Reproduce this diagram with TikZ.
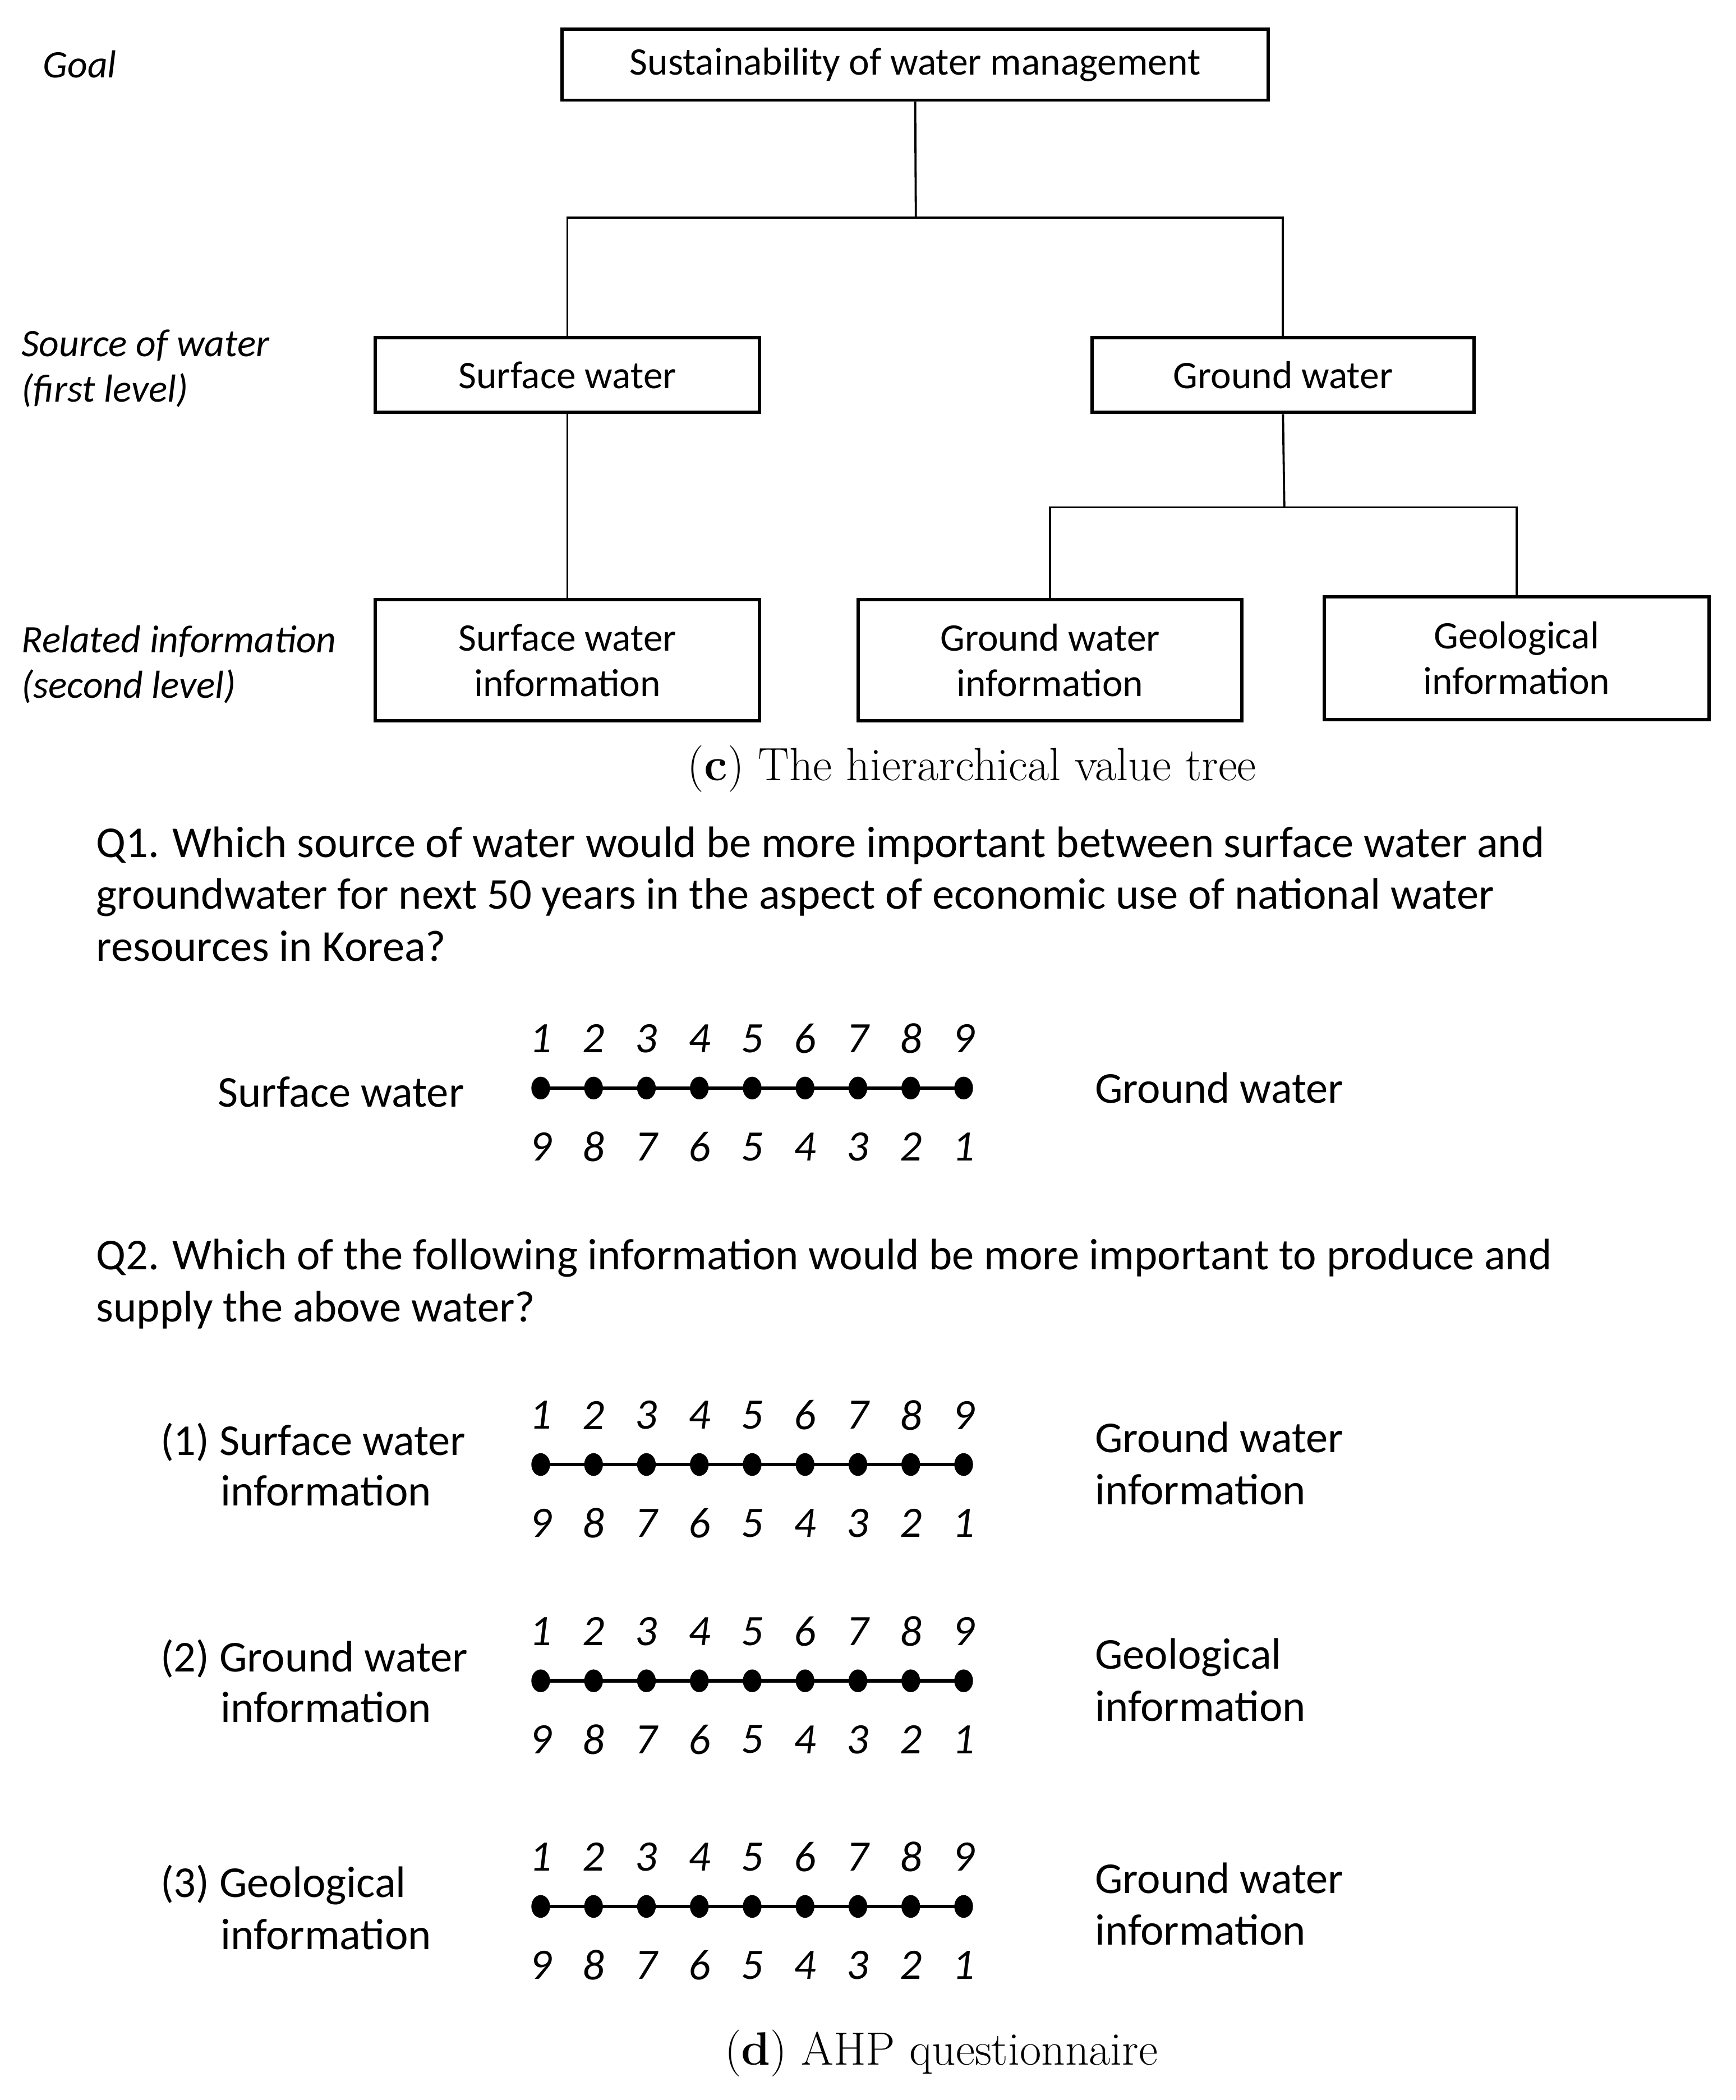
\documentclass[tikz,border=0pt]{standalone}
\usepackage{fontspec}
\newfontfamily\cfont{Carlito}
\usetikzlibrary{shapes.geometric}
\newcommand\ahpscale[2]{%
  \foreach \i in {1,...,9} {
    \pgfmathtruncatemacro\jj{10-\i}
    \node[scaledot] (#1d\i) at ({405+(\i-1)*39.6},{#2}) {};
    \node[num] (#1t\i) at ({405+(\i-1)*39.6},{#2-37}) {\i};
    \node[num] (#1b\i) at ({405+(\i-1)*39.6},{#2+44}) {\jj};
  }
  \draw[sline] (#1d1.center) -- (#1d9.center);
}
\begin{document}
\begin{tikzpicture}[x=1pt,y=-1pt,
 box/.style={draw, line width=2.5pt, inner sep=0pt, font=\cfont\fontsize{29.2}{34}\selectfont, align=center},
 conn/.style={line width=1.6pt},
 lvl/.style={anchor=base west, inner sep=0pt, font=\cfont\itshape\fontsize{29.2}{34}\selectfont},
 qtext/.style={anchor=base west, inner sep=0pt, font=\cfont\fontsize{33}{39}\selectfont},
 num/.style={inner sep=0pt, font=\cfont\itshape\fontsize{32.5}{34}\selectfont},
 scaledot/.style={ellipse, fill=black, inner sep=0pt, minimum width=14pt, minimum height=17pt},
 sline/.style={line width=2.8pt},
 capt/.style={inner sep=0pt, font=\fontsize{35}{40}\selectfont}
]
\useasboundingbox (0,0) rectangle (1300,1573);

% ---- tree ----
\node[box, minimum width=529pt, minimum height=53pt] (goal) at (685.5,48.5) {Sustainability of water management};
\node[box, minimum width=288pt, minimum height=56pt] (sw) at (425,281) {Surface water};
\node[box, minimum width=286pt, minimum height=56pt] (gw) at (961,281) {Ground water};
\node[box, minimum width=288pt, minimum height=91pt] (swi) at (425,494.5) {Surface water\\information};
\node[box, minimum width=287pt, minimum height=91pt] (gwi) at (786.5,494.5) {Ground water\\information};
\node[box, minimum width=288pt, minimum height=92pt] (geo) at (1136,493) {Geological\\information};

\coordinate (j1) at (686,163);
\coordinate (j2) at (962,380);
\draw[conn] (goal.south) -- (j1);
\draw[conn] (j1) -| (sw.north);
\draw[conn] (j1) -| (gw.north);
\draw[conn] (sw.south) -- (swi.north);
\draw[conn] (gw.south) -- (j2);
\draw[conn] (j2) -| (gwi.north);
\draw[conn] (j2) -| (geo.north);

\node[lvl] (lg) at (32,58) {Goal};
\node[lvl] (ls1) at (16,267) {Source of water};
\node[lvl] (ls2) at (16,301) {(first level)};
\node[lvl] (lr1) at (16,489) {Related information};
\node[lvl] (lr2) at (16,523) {(second level)};

\node[capt] (capc) at (728,576) {(\textbf{c}) The hierarchical value tree};

% ---- questionnaire ----
\node[qtext] (q1a) at (72,642) {Q1. Which source of water would be more important between surface water and};
\node[qtext] (q1b) at (72,681) {groundwater for next 50 years in the aspect of economic use of national water};
\node[qtext] (q1c) at (72,720) {resources in Korea?};

\ahpscale{a}{815}
\node[qtext] (al) at (163,829) {Surface water};
\node[qtext] (ar) at (820,826) {Ground water};

\node[qtext] (q2a) at (72,951) {Q2. Which of the following information would be more important to produce and};
\node[qtext] (q2b) at (72,990) {supply the above water?};

\ahpscale{b}{1097}
\node[qtext] (bl1) at (120,1090) {(1) Surface water};
\node[qtext] (bl2) at (165,1128) {information};
\node[qtext] (br1) at (820,1088) {Ground water};
\node[qtext] (br2) at (820,1127) {information};

\ahpscale{c}{1259}
\node[qtext] (cl1) at (120,1252) {(2) Ground water};
\node[qtext] (cl2) at (165,1290) {information};
\node[qtext] (cr1) at (820,1250) {Geological};
\node[qtext] (cr2) at (820,1289) {information};

\ahpscale{e}{1428}
\node[qtext] (el1) at (120,1421) {(3) Geological};
\node[qtext] (el2) at (165,1460) {information};
\node[qtext] (er1) at (820,1418) {Ground water};
\node[qtext] (er2) at (820,1457) {information};

\node[capt] (capd) at (705,1538) {(\textbf{d}) AHP questionnaire};
\end{tikzpicture}
\end{document}
